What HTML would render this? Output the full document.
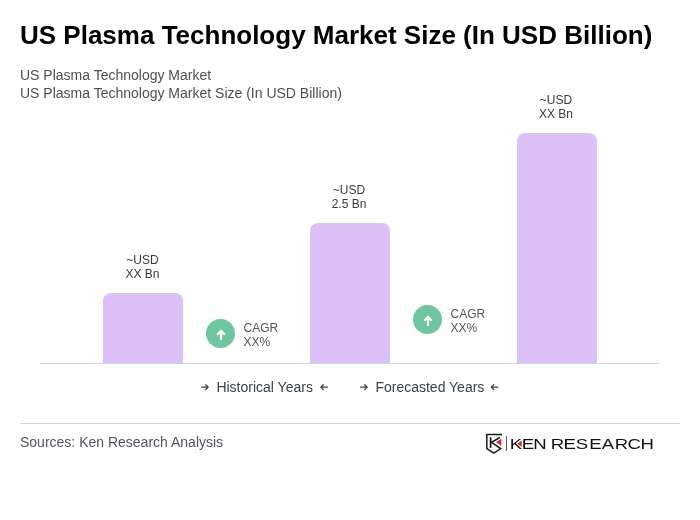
<!DOCTYPE html>
<html><head><meta charset="utf-8">
<style>
*{box-sizing:border-box;margin:0;padding:0}
html,body{width:700px;height:520px;background:#fff;overflow:hidden}
body{font-family:"Liberation Sans",Arial,sans-serif;position:relative;color:#374151}
h1{position:absolute;left:20px;top:20px;font-size:26px;line-height:30px;font-weight:700;color:#000;white-space:nowrap}
.sub{position:absolute;left:20px;font-size:14px;line-height:18px;color:#495057;white-space:nowrap}
.bar{position:absolute;width:80px;background:#dcc1f9;border-radius:8px 8px 0 0}
.lbl{position:absolute;width:80px;text-align:center;font-size:12px;line-height:14px;color:#343a40}
.axis{position:absolute;left:40px;top:363px;width:620px;height:1px;background:#d1d5db}
.circ{position:absolute;width:29px;height:29px;border-radius:50%;background:#6fc5a0}
.cagr{position:absolute;font-size:12px;line-height:14px;color:#4b5563}
.leg{position:absolute;top:378px;font-size:14px;line-height:18px;color:#374151;white-space:nowrap}
.hr{position:absolute;left:20px;top:423px;width:660px;height:1px;background:#d1d5db}
.src{position:absolute;left:20px;top:433px;font-size:14px;line-height:18px;color:#4b5563}
</style></head><body>
<h1>US Plasma Technology Market Size (In USD Billion)</h1>
<div class="sub" style="top:66px">US Plasma Technology Market</div>
<div class="sub" style="top:84px">US Plasma Technology Market Size (In USD Billion)</div>

<div class="lbl" style="left:102.5px;top:253px">~USD<br>XX Bn</div>
<div class="bar" style="left:103px;top:293px;height:70px"></div>
<div class="lbl" style="left:309px;top:183px">~USD<br>2.5 Bn</div>
<div class="bar" style="left:310px;top:223px;height:140px"></div>
<div class="lbl" style="left:516px;top:93px">~USD<br>XX Bn</div>
<div class="bar" style="left:517px;top:133px;height:230px"></div>
<div class="axis"></div>

<div class="circ" style="left:206.2px;top:319.2px"></div>
<svg style="position:absolute;left:207px;top:320px" width="28" height="28" viewBox="0 0 28 28"><path d="M14 19V11M10.9 14L14 10.9L17.1 14" fill="none" stroke="#fff" stroke-width="2.2" stroke-linecap="round" stroke-linejoin="round"/></svg>
<div class="cagr" style="left:243.6px;top:321px">CAGR<br>XX%</div>
<div class="circ" style="left:413.2px;top:305.2px"></div>
<svg style="position:absolute;left:414px;top:306px" width="28" height="28" viewBox="0 0 28 28"><path d="M14 19V11M10.9 14L14 10.9L17.1 14" fill="none" stroke="#fff" stroke-width="2.2" stroke-linecap="round" stroke-linejoin="round"/></svg>
<div class="cagr" style="left:450.6px;top:307px">CAGR<br>XX%</div>

<div class="leg" style="left:216.4px">Historical Years</div>
<div class="leg" style="left:375.4px">Forecasted Years</div>

<svg style="position:absolute;left:0;top:375px" width="700" height="25" viewBox="0 375 700 25"><path d="M201.55 387.1H208.25M205.75 384.70L208.25 387.1L205.75 389.50" fill="none" stroke="#374151" stroke-width="1.3" stroke-linecap="round" stroke-linejoin="round"/><path d="M327.45 387.1H320.75M323.25 384.70L320.75 387.1L323.25 389.50" fill="none" stroke="#374151" stroke-width="1.3" stroke-linecap="round" stroke-linejoin="round"/><path d="M360.55 387.1H367.25M364.75 384.70L367.25 387.1L364.75 389.50" fill="none" stroke="#374151" stroke-width="1.3" stroke-linecap="round" stroke-linejoin="round"/><path d="M497.95 387.1H491.25M493.75 384.70L491.25 387.1L493.75 389.50" fill="none" stroke="#374151" stroke-width="1.3" stroke-linecap="round" stroke-linejoin="round"/></svg>
<div class="hr"></div>
<div class="src">Sources: Ken Research Analysis</div>
<svg style="position:absolute;left:480px;top:426px" width="190" height="34" viewBox="480 426 190 34">
<path d="M501.2 435.6V434.5H486.8V448.6L493.8 453.2L500.7 448.6L491.4 442.3L499.9 437.5" fill="none" stroke="#1a1a1a" stroke-width="1.5" stroke-linejoin="miter"/>
<path d="M490.6 437.2V447.9" fill="none" stroke="#1a1a1a" stroke-width="1.7"/>
<path d="M496 442.2L501.4 438.8V445.7Z" fill="#cf2a35"/>
<path d="M506.5 436.2V451" stroke="#333" stroke-width="0.8"/>
<text id="kr" transform="scale(1.28 1)" y="448.9" font-family="'Liberation Sans',Arial,sans-serif" font-size="14.5" fill="#111" x="398.31 407.68 416.62 425.78 430.21 440.21 449.85 460.37 470.16 480.34 490.21 500.3">KEN RESEARCH</text>
<path d="M517.4 443.7L521.7 440.5V446.9Z" fill="#cf2a35"/>
</svg>
</body></html>
